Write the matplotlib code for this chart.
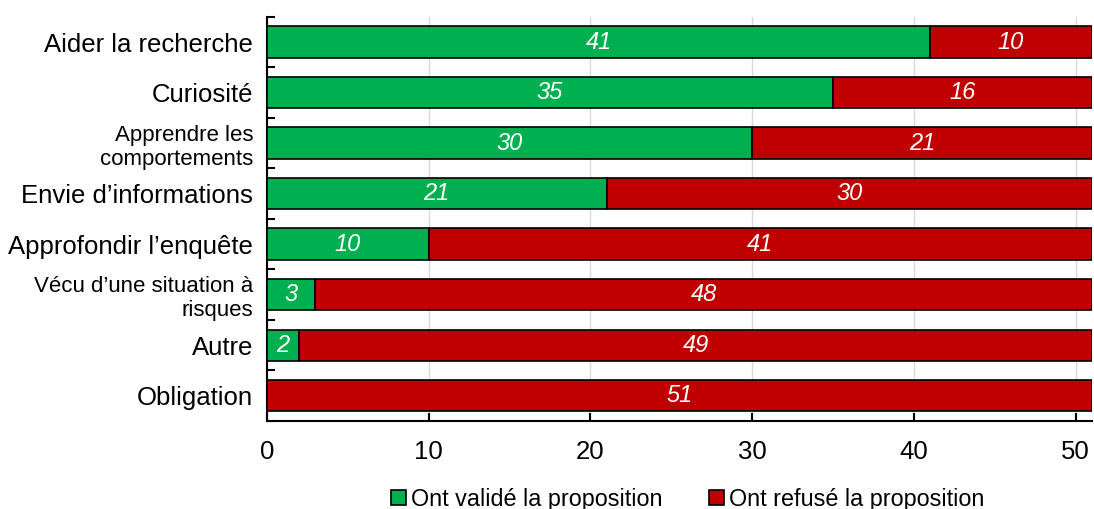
import matplotlib
matplotlib.use('Agg')
import matplotlib.pyplot as plt
import numpy as np

plt.rcParams['font.family'] = ['Liberation Sans', 'DejaVu Sans']

categories = ["Aider la recherche", "Curiosité", "Apprendre les\ncomportements",
              "Envie d’informations", "Approfondir l’enquête",
              "Vécu d’une situation à\nrisques", "Autre", "Obligation"]
valide = [41, 35, 30, 21, 10, 3, 2, 0]
refuse = [10, 16, 21, 30, 41, 48, 49, 51]
label_sizes = [18.5, 18.5, 16, 18.5, 18.5, 16, 18.5, 18.5]

green = '#00B050'
red = '#C00000'

fig = plt.figure(figsize=(10.94, 5.09), dpi=100)
ax = fig.add_axes([0.244, 0.173, 0.754, 0.794])

y = np.arange(len(categories))
bh = 0.62
b1 = ax.barh(y, valide, height=bh, color=green, edgecolor='black', linewidth=1.2,
             label='Ont validé la proposition', zorder=3)
b2 = ax.barh(y, refuse, left=valide, height=bh, color=red, edgecolor='black', linewidth=1.2,
             label='Ont refusé la proposition', zorder=3)

for bars, vals in [(b1, valide), (b2, refuse)]:
    labels = [str(v) if v > 0 else '' for v in vals]
    ax.bar_label(bars, labels=labels, label_type='center', color='white',
                 fontstyle='italic', fontsize=17)

ax.set_xlim(0, 51)
ax.set_ylim(len(categories) - 0.5, -0.5)
ax.set_xticks(range(0, 51, 10))
ax.set_yticks(y)
ax.set_yticklabels(categories)
for lab, s in zip(ax.get_yticklabels(), label_sizes):
    lab.set_fontsize(s)
    lab.set_linespacing(1.2)
    lab.set_multialignment('right')
ax.set_yticks(np.arange(-0.5, len(categories), 1), minor=True)
ax.tick_params(axis='y', which='major', length=0, pad=10)
ax.tick_params(axis='y', which='minor', direction='in', length=6, width=1.5)
ax.tick_params(axis='x', direction='in', length=6, width=1.5, labelsize=18.5, pad=14)

ax.grid(axis='x', color='#D9D9D9', linewidth=1, zorder=0)
ax.set_axisbelow(True)
for s in ['top', 'right']:
    ax.spines[s].set_visible(False)
for s in ['left', 'bottom']:
    ax.spines[s].set_linewidth(1.5)

ax.legend(loc='lower center', bbox_to_anchor=(0.51, -0.222), ncol=2, frameon=False,
          fontsize=16.8, handlelength=0.65, handleheight=0.65, handletextpad=0.2,
          columnspacing=2.0, borderpad=0.0, borderaxespad=0.0)

fig.savefig('out.png', dpi=100)
